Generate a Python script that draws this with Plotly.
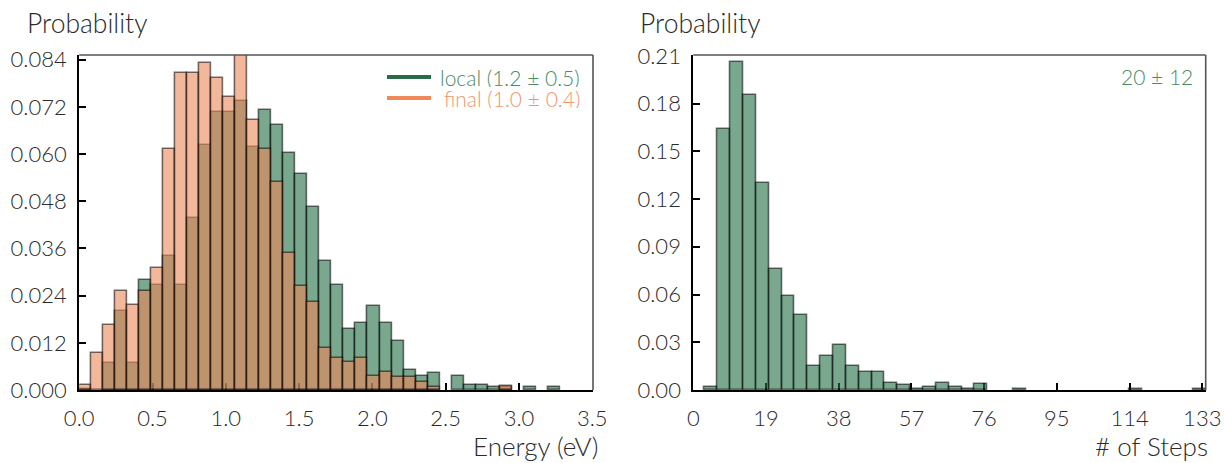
import plotly.graph_objects as go

# ---------------- data ----------------
energy_bin_start = 0.0
energy_bin_width = 0.082
energy_local = [0.0003, 0, 0.0068, 0.0200, 0.0068, 0.0281, 0.0266, 0.0342, 0.0266, 0.0438,
                0.0624, 0.0706, 0.0706, 0.0734, 0.0617, 0.0712, 0.0674, 0.0602, 0.0549, 0.0466,
                0.0327, 0.0266, 0.0155, 0.0170, 0.0214, 0.0170, 0.0125, 0.0051, 0.0036, 0.0044,
                0, 0.0036, 0.0014, 0.0014, 0.0007, 0.0007, 0, 0.0007, 0, 0.0007]
energy_final = [0.0012, 0.0094, 0.0166, 0.0251, 0.0215, 0.0251, 0.0311, 0.0614, 0.0807, 0.0807,
                0.0831, 0.0794, 0.0746, 0.0900, 0.0687, 0.0614, 0.0529, 0.0349, 0.0264, 0.0225,
                0.0106, 0.0082, 0.0070, 0.0082, 0.0036, 0.0045, 0.0032, 0.0032, 0.0021, 0.0008,
                0, 0, 0, 0, 0, 0.0010, 0, 0, 0, 0]

steps_bin_start = 3.0
steps_bin_width = 3.359
steps_prob = [0.0017, 0.1639, 0.2060, 0.1851, 0.1300, 0.0762, 0.0591, 0.0470, 0.0152, 0.0215,
              0.0282, 0.0152, 0.0115, 0.0115, 0.0042, 0.0031, 0.0006, 0.0017, 0.0042, 0.0017,
              0.0006, 0.0036, 0, 0, 0.0008, 0, 0, 0, 0, 0,
              0, 0, 0, 0.0006, 0, 0, 0, 0, 0.0008]

energy_ticks = [0.0, 0.5, 1.0, 1.5, 2.0, 2.5, 3.0, 3.5]
energy_yticks = [0.000, 0.012, 0.024, 0.036, 0.048, 0.060, 0.072, 0.084]
steps_ticks = [0, 19, 38, 57, 76, 95, 114, 133]
steps_yticks = [0.00, 0.03, 0.06, 0.09, 0.12, 0.15, 0.18, 0.21]

local_label = "local (1.2 ± 0.5)"
final_label = "final (1.0 ± 0.4)"
steps_label = "20 ± 12"

# ---------------- style ----------------
GREEN = "rgba(33,110,68,0.6)"
ORANGE = "rgba(235,135,88,0.6)"
EDGE = "rgba(0,0,0,0.55)"
FONT = "Lato"
TXT = "#2a2a2a"


def centers(start, width, n):
    return [start + width * (i + 0.5) for i in range(n)]


def nz(v):
    return [x if x > 0 else None for x in v]


fig = go.Figure()

fig.add_trace(go.Bar(
    x=centers(energy_bin_start, energy_bin_width, len(energy_local)), y=nz(energy_local),
    width=energy_bin_width, marker=dict(color=GREEN, line=dict(color=EDGE, width=1.6)),
    xaxis="x", yaxis="y", showlegend=False, name="local"))
fig.add_trace(go.Bar(
    x=centers(energy_bin_start, energy_bin_width, len(energy_final)), y=nz(energy_final),
    width=energy_bin_width, marker=dict(color=ORANGE, line=dict(color=EDGE, width=1.6)),
    xaxis="x", yaxis="y", showlegend=False, name="final"))
fig.add_trace(go.Bar(
    x=centers(steps_bin_start, steps_bin_width, len(steps_prob)), y=nz(steps_prob),
    width=steps_bin_width, marker=dict(color=GREEN, line=dict(color=EDGE, width=1.6)),
    xaxis="x2", yaxis="y2", showlegend=False, name="steps"))

W, H = 1224, 463
L1, R1 = 79.2, 593.0
L2, R2 = 693.3, 1205.7
TOP, BOT = 55.0, 390.0
ydom = [(H - BOT) / H, (H - TOP) / H]

tickfont = dict(family=FONT, size=22, color=TXT, weight=300)
common_ax = dict(showline=True, linecolor="black", linewidth=2, ticks="inside", ticklen=7,
                 tickwidth=2, tickcolor="black", showgrid=False, zeroline=False,
                 tickfont=tickfont, layer="below traces", automargin=False)

fig.update_layout(
    width=W, height=H, margin=dict(l=0, r=0, t=0, b=0, pad=0), template="none",
    paper_bgcolor="white", plot_bgcolor="white", barmode="overlay", bargap=0,
    font=dict(family=FONT, size=20, color=TXT, weight=300),
    xaxis=dict(domain=[L1 / W, R1 / W], range=[0, 3.505], tickvals=energy_ticks,
               tickformat=".1f", anchor="y", ticklabelstandoff=8, **common_ax),
    yaxis=dict(domain=ydom, range=[0, 0.0852], tickvals=energy_yticks,
               tickformat=".3f", anchor="x", ticklabelstandoff=6, **common_ax),
    xaxis2=dict(domain=[L2 / W, R2 / W], range=[0, 133.9], tickvals=steps_ticks,
                anchor="y2", ticklabelstandoff=8, **common_ax),
    yaxis2=dict(domain=ydom, range=[0, 0.2105], tickvals=steps_yticks,
                tickformat=".2f", anchor="x2", ticklabelstandoff=6, **common_ax),
)

# top / right frame lines (thin gray)
for xr, yr in (("x domain", "y domain"), ("x2 domain", "y2 domain")):
    fig.add_shape(type="line", xref=xr, yref=yr, x0=0, x1=1, y0=1, y1=1,
                  line=dict(color="#555", width=1.6))
    fig.add_shape(type="line", xref=xr, yref=yr, x0=1, x1=1, y0=0, y1=1,
                  line=dict(color="#555", width=1.6))

# legend (left panel)
leg = [(local_label, "#2a6b47", "rgb(74,140,102)", 77.0), (final_label, "#f0895a", "rgb(240,150,108)", 98.0)]
for txt, lc, tc, yy in leg:
    fig.add_shape(type="line", xref="paper", yref="paper", x0=387 / W, x1=431 / W,
                  y0=(H - yy) / H, y1=(H - yy) / H, line=dict(color=lc, width=4))
    fig.add_annotation(text=txt, xref="paper", yref="paper", x=582 / W, y=(H - yy) / H,
                       xanchor="right", yanchor="middle", showarrow=False, height=20,
                       font=dict(family=FONT, size=21, color=tc, weight=300))

fig.add_annotation(text=steps_label, xref="paper", yref="paper", x=1195 / W, y=(H - 77) / H,
                   xanchor="right", yanchor="middle", showarrow=False,
                   font=dict(family=FONT, size=21, color="rgb(74,140,102)", weight=300))

# axis labels
for txt, x in (("Probability", 25), ("Probability", 638)):
    fig.add_annotation(text=txt, xref="paper", yref="paper", x=x / W, y=(H - 23) / H,
                       xanchor="left", yanchor="middle", showarrow=False,
                       font=dict(family=FONT, size=26.5, color=TXT, weight=300))
for txt, x in (("Energy (eV)", 600), ("# of Steps", 1210)):
    fig.add_annotation(text=txt, xref="paper", yref="paper", x=x / W, y=(H - 446) / H,
                       xanchor="right", yanchor="middle", showarrow=False,
                       font=dict(family=FONT, size=26, color=TXT, weight=300))

fig.write_html("out.html")
